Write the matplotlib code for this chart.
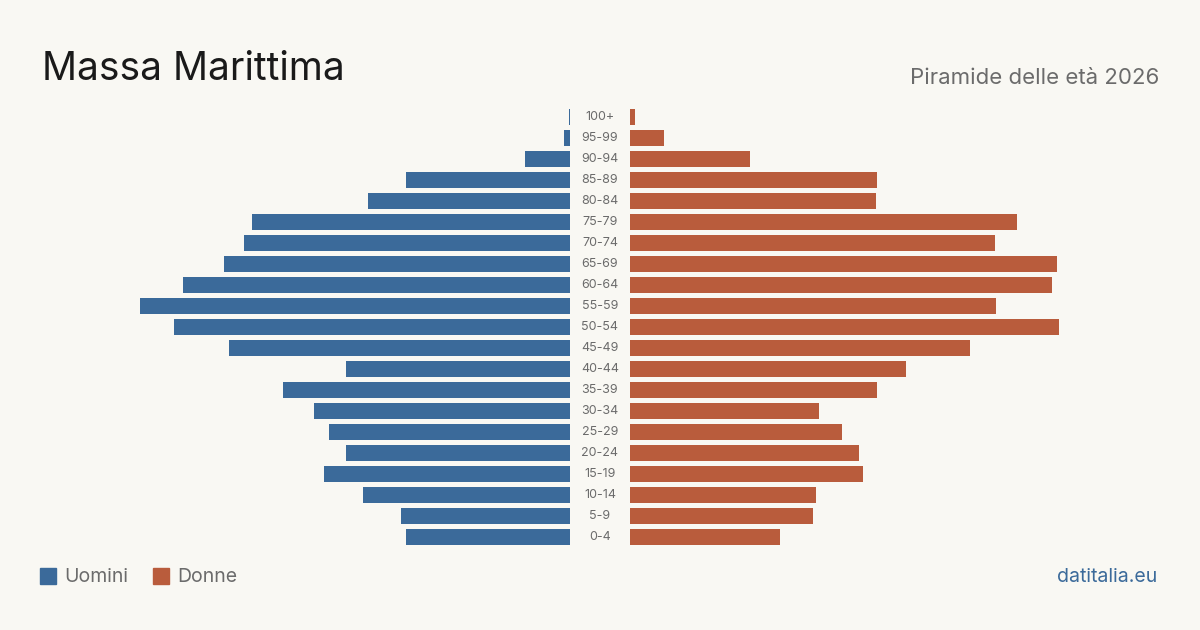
import numpy as np
import matplotlib.pyplot as plt

# data
age_groups = ["0-4", "5-9", "10-14", "15-19", "20-24", "25-29", "30-34", "35-39",
              "40-44", "45-49", "50-54", "55-59", "60-64", "65-69", "70-74",
              "75-79", "80-84", "85-89", "90-94", "95-99", "100+"]
men = [164, 169, 207, 246, 224, 241, 256, 287, 224, 341, 396, 430, 387, 346,
       326, 318, 202, 164, 45, 6, 1]
women = [150, 183, 186, 233, 229, 212, 189, 247, 276, 340, 429, 366, 422, 427,
         365, 387, 246, 247, 120, 34, 5]

# theme
BG = "#f9f8f3"
BLUE = "#3b6a9a"
ORANGE = "#b95c3c"
GREY = "#6b6b6b"
plt.rcParams['font.family'] = ['Inter', 'DejaVu Sans']

W, H = 1200, 630
fig = plt.figure(figsize=(12, 6.3), dpi=100, facecolor=BG)

y = np.arange(len(age_groups))
top, bottom = 106.5, 547.5
ax_b = 1 - bottom / H
ax_h = (bottom - top) / H

ax_l = fig.add_axes([40 / W, ax_b, 530 / W, ax_h])
ax_r = fig.add_axes([630 / W, ax_b, 530 / W, ax_h])

ax_l.barh(y, men, height=0.8, color=BLUE)
ax_r.barh(y, women, height=0.8, color=ORANGE)
ax_l.set_xlim(530, 0)
ax_r.set_xlim(0, 530)

for ax in (ax_l, ax_r):
    ax.set_ylim(-0.5, len(age_groups) - 0.5)
    ax.set_facecolor(BG)
    ax.axis('off')

# age labels in the gap between the halves
for i, lab in enumerate(age_groups):
    ax_r.annotate(lab, xy=(0, i), xytext=(-30, 0), textcoords='offset pixels',
                  ha='center', va='center', fontsize=9, color=GREY)

# titles
fig.text(42 / W, 1 - 69 / H, "Massa Marittima", fontsize=28, color="#1a1a1a",
         ha='left', va='center')
fig.text(1159 / W, 1 - 78 / H, "Piramide delle età 2026", fontsize=16,
         color=GREY, ha='right', va='center')

# legend
fig.patches.append(plt.Rectangle((40 / W, 1 - 584 / H), 16 / W, 16 / H,
                                 transform=fig.transFigure, color=BLUE))
fig.text(64 / W, 1 - 577 / H, "Uomini", fontsize=14, color=GREY,
         ha='left', va='center')
fig.patches.append(plt.Rectangle((153 / W, 1 - 584 / H), 16 / W, 16 / H,
                                 transform=fig.transFigure, color=ORANGE))
fig.text(177 / W, 1 - 577 / H, "Donne", fontsize=14, color=GREY,
         ha='left', va='center')

fig.text(1157 / W, 1 - 577 / H, "datitalia.eu", fontsize=14, color=BLUE,
         ha='right', va='center')

plt.savefig("out.png", dpi=100, facecolor=BG)
